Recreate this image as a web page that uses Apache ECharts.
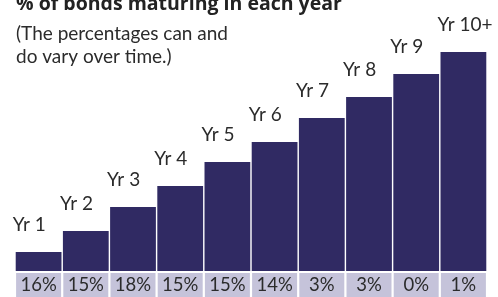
<!DOCTYPE html>
<html>
<head>
    <meta charset="UTF-8">
    <title>Bonds maturing</title>
    <script src="https://cdn.jsdelivr.net/npm/echarts/dist/echarts.min.js"></script>
    <style>
        html, body { margin: 0; padding: 0; background: #fff; }
        #chart { width: 498px; height: 297px; }
    </style>
</head>
<body>
    <div id="chart"></div>
    <script>
        // staircase bar heights (illustrative)
        const years = ['Yr 1', 'Yr 2', 'Yr 3', 'Yr 4', 'Yr 5', 'Yr 6', 'Yr 7', 'Yr 8', 'Yr 9', 'Yr 10+'];
        const barHeights = [1.9, 4.0, 6.4, 8.5, 10.9, 12.9, 15.3, 17.4, 19.7, 21.9];
        const percentages = ['16%', '15%', '18%', '15%', '15%', '14%', '3%', '3%', '0%', '1%'];

        const titleText = '% of bonds maturing in each year';
        const noteText = '(The percentages can and\ndo vary over time.)';

        const font = 'Lato, "Open Sans", sans-serif';
        const myChart = echarts.init(document.getElementById('chart'));

        myChart.setOption({
            animation: false,
            title: [{
                text: titleText,
                left: 11,
                top: -11,
                textStyle: { fontFamily: '"Open Sans", Lato, sans-serif', fontSize: 19.5, fontWeight: 'bold', color: '#222' }
            }, {
                text: noteText,
                left: 11,
                top: 17,
                textStyle: { fontFamily: font, fontSize: 19, fontWeight: 'normal', color: '#2b2b2b', lineHeight: 23 }
            }],
            grid: { left: 15, right: 11, top: 52, bottom: 26 },
            xAxis: {
                type: 'category',
                data: percentages,
                axisLine: { show: false },
                axisTick: { show: false },
                axisLabel: {
                    interval: 0,
                    margin: 2,
                    fontFamily: font,
                    fontSize: 18.5,
                    color: '#2b2b2b',
                    backgroundColor: '#c5c3da',
                    width: 45,
                    height: 24,
                    lineHeight: 24,
                    align: 'center'
                }
            },
            yAxis: {
                type: 'value',
                min: 0,
                max: 21.9,
                show: false,
                splitLine: { show: false }
            },
            series: [{
                type: 'bar',
                data: barHeights,
                barCategoryGap: '3%',
                itemStyle: { color: '#302a63' },
                label: {
                    show: true,
                    position: [-3, -18],
                    verticalAlign: 'bottom',
                    align: 'left',
                    fontFamily: font,
                    fontSize: 19,
                    color: '#2b2b2b',
                    formatter: p => years[p.dataIndex]
                }
            }]
        });
    </script>
</body>
</html>
